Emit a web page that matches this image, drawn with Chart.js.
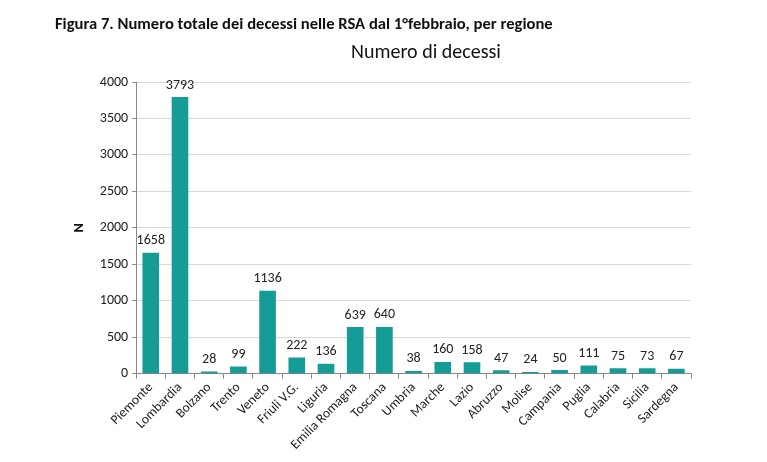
<!DOCTYPE html>
<html>
<head>
<meta charset="utf-8">
<script src="https://cdn.jsdelivr.net/npm/chart.js@4"></script>
<style>
    body { margin: 0; background: #fff; }
    #wrap { position: relative; width: 767px; height: 462px; }
    #fig { position: absolute; left: 55px; top: 13px; font-family: Carlito, "Liberation Sans", sans-serif; font-weight: bold; font-size: 16.6px; color: #111; }
    #titolo { position: absolute; left: 326px; width: 200px; top: 39px; text-align: center; font-family: Carlito, "Liberation Sans", sans-serif; font-size: 20px; color: #111; }
    #box { position: absolute; left: 0; top: 0; width: 767px; height: 462px; }
</style>
</head>
<body>
<div id="wrap">
    <div id="box"><canvas id="decessiChart"></canvas></div>
    <div id="fig">Figura 7. Numero totale dei decessi nelle RSA dal 1°febbraio, per regione</div>
    <div id="titolo">Numero di decessi</div>
</div>
<script>
var regioni = ['Piemonte', 'Lombardia', 'Bolzano', 'Trento', 'Veneto', 'Friuli V.G.', 'Liguria', 'Emilia Romagna', 'Toscana', 'Umbria', 'Marche', 'Lazio', 'Abruzzo', 'Molise', 'Campania', 'Puglia', 'Calabria', 'Sicilia', 'Sardegna'];
var decessi = [1658, 3793, 28, 99, 1136, 222, 136, 639, 640, 38, 160, 158, 47, 24, 50, 111, 75, 73, 67];
var ytick = [0, 500, 1000, 1500, 2000, 2500, 3000, 3500, 4000];

var fontname = 'Carlito, "Liberation Sans", sans-serif';

// scrive il valore sopra ogni barra
const valorilabel = {
    id: 'valorilabel',
    afterDatasetsDraw(chart) {
        const ctx = chart.ctx;
        const meta = chart.getDatasetMeta(0);
        ctx.save();
        ctx.font = '14px ' + fontname;
        ctx.fillStyle = '#222';
        ctx.textAlign = 'center';
        ctx.textBaseline = 'bottom';
        meta.data.forEach(function (bar, i) {
            ctx.fillText(decessi[i], bar.x, bar.y - 5);
        });
        ctx.restore();
    }
};

const ctx = document.getElementById('decessiChart');
const config = {
    type: 'bar',
    data: {
        labels: regioni,
        datasets: [{
            data: decessi,
            backgroundColor: '#169c97',
            barPercentage: 0.57,
            categoryPercentage: 1.0
        }]
    },
    options: {
        responsive: true,
        maintainAspectRatio: false,
        animation: false,
        layout: {
            padding: { left: 67, right: 76, top: 82, bottom: 8 }
        },
        plugins: {
            legend: { display: false },
            tooltip: { enabled: false },
            title: { display: false }
        },
        scales: {
            y: {
                min: 0,
                max: 4000,
                afterBuildTicks: function (axis) {
                    axis.ticks = ytick.map(function (v) { return { value: v }; });
                },
                title: {
                    display: true,
                    text: 'N',
                    color: '#111',
                    font: { family: fontname, size: 14, weight: 'bold' },
                    padding: { bottom: 8 }
                },
                ticks: {
                    color: '#222',
                    padding: 4,
                    font: { family: fontname, size: 14 },
                    callback: function (v) { return String(v); }
                },
                grid: {
                    color: '#d9d9d9',
                    tickColor: '#888',
                    tickLength: 4
                },
                border: { color: '#888', width: 1 }
            },
            x: {
                ticks: {
                    color: '#222',
                    maxRotation: 45,
                    minRotation: 45,
                    autoSkip: false,
                    padding: 1,
                    font: { family: fontname, size: 13.5 }
                },
                grid: {
                    offset: true,
                    drawOnChartArea: false,
                    tickColor: '#888',
                    tickLength: 5
                },
                border: { color: '#888', width: 1 }
            }
        }
    },
    plugins: [valorilabel]
};
var DecessiChart = new Chart(ctx, config);
</script>
</body>
</html>
